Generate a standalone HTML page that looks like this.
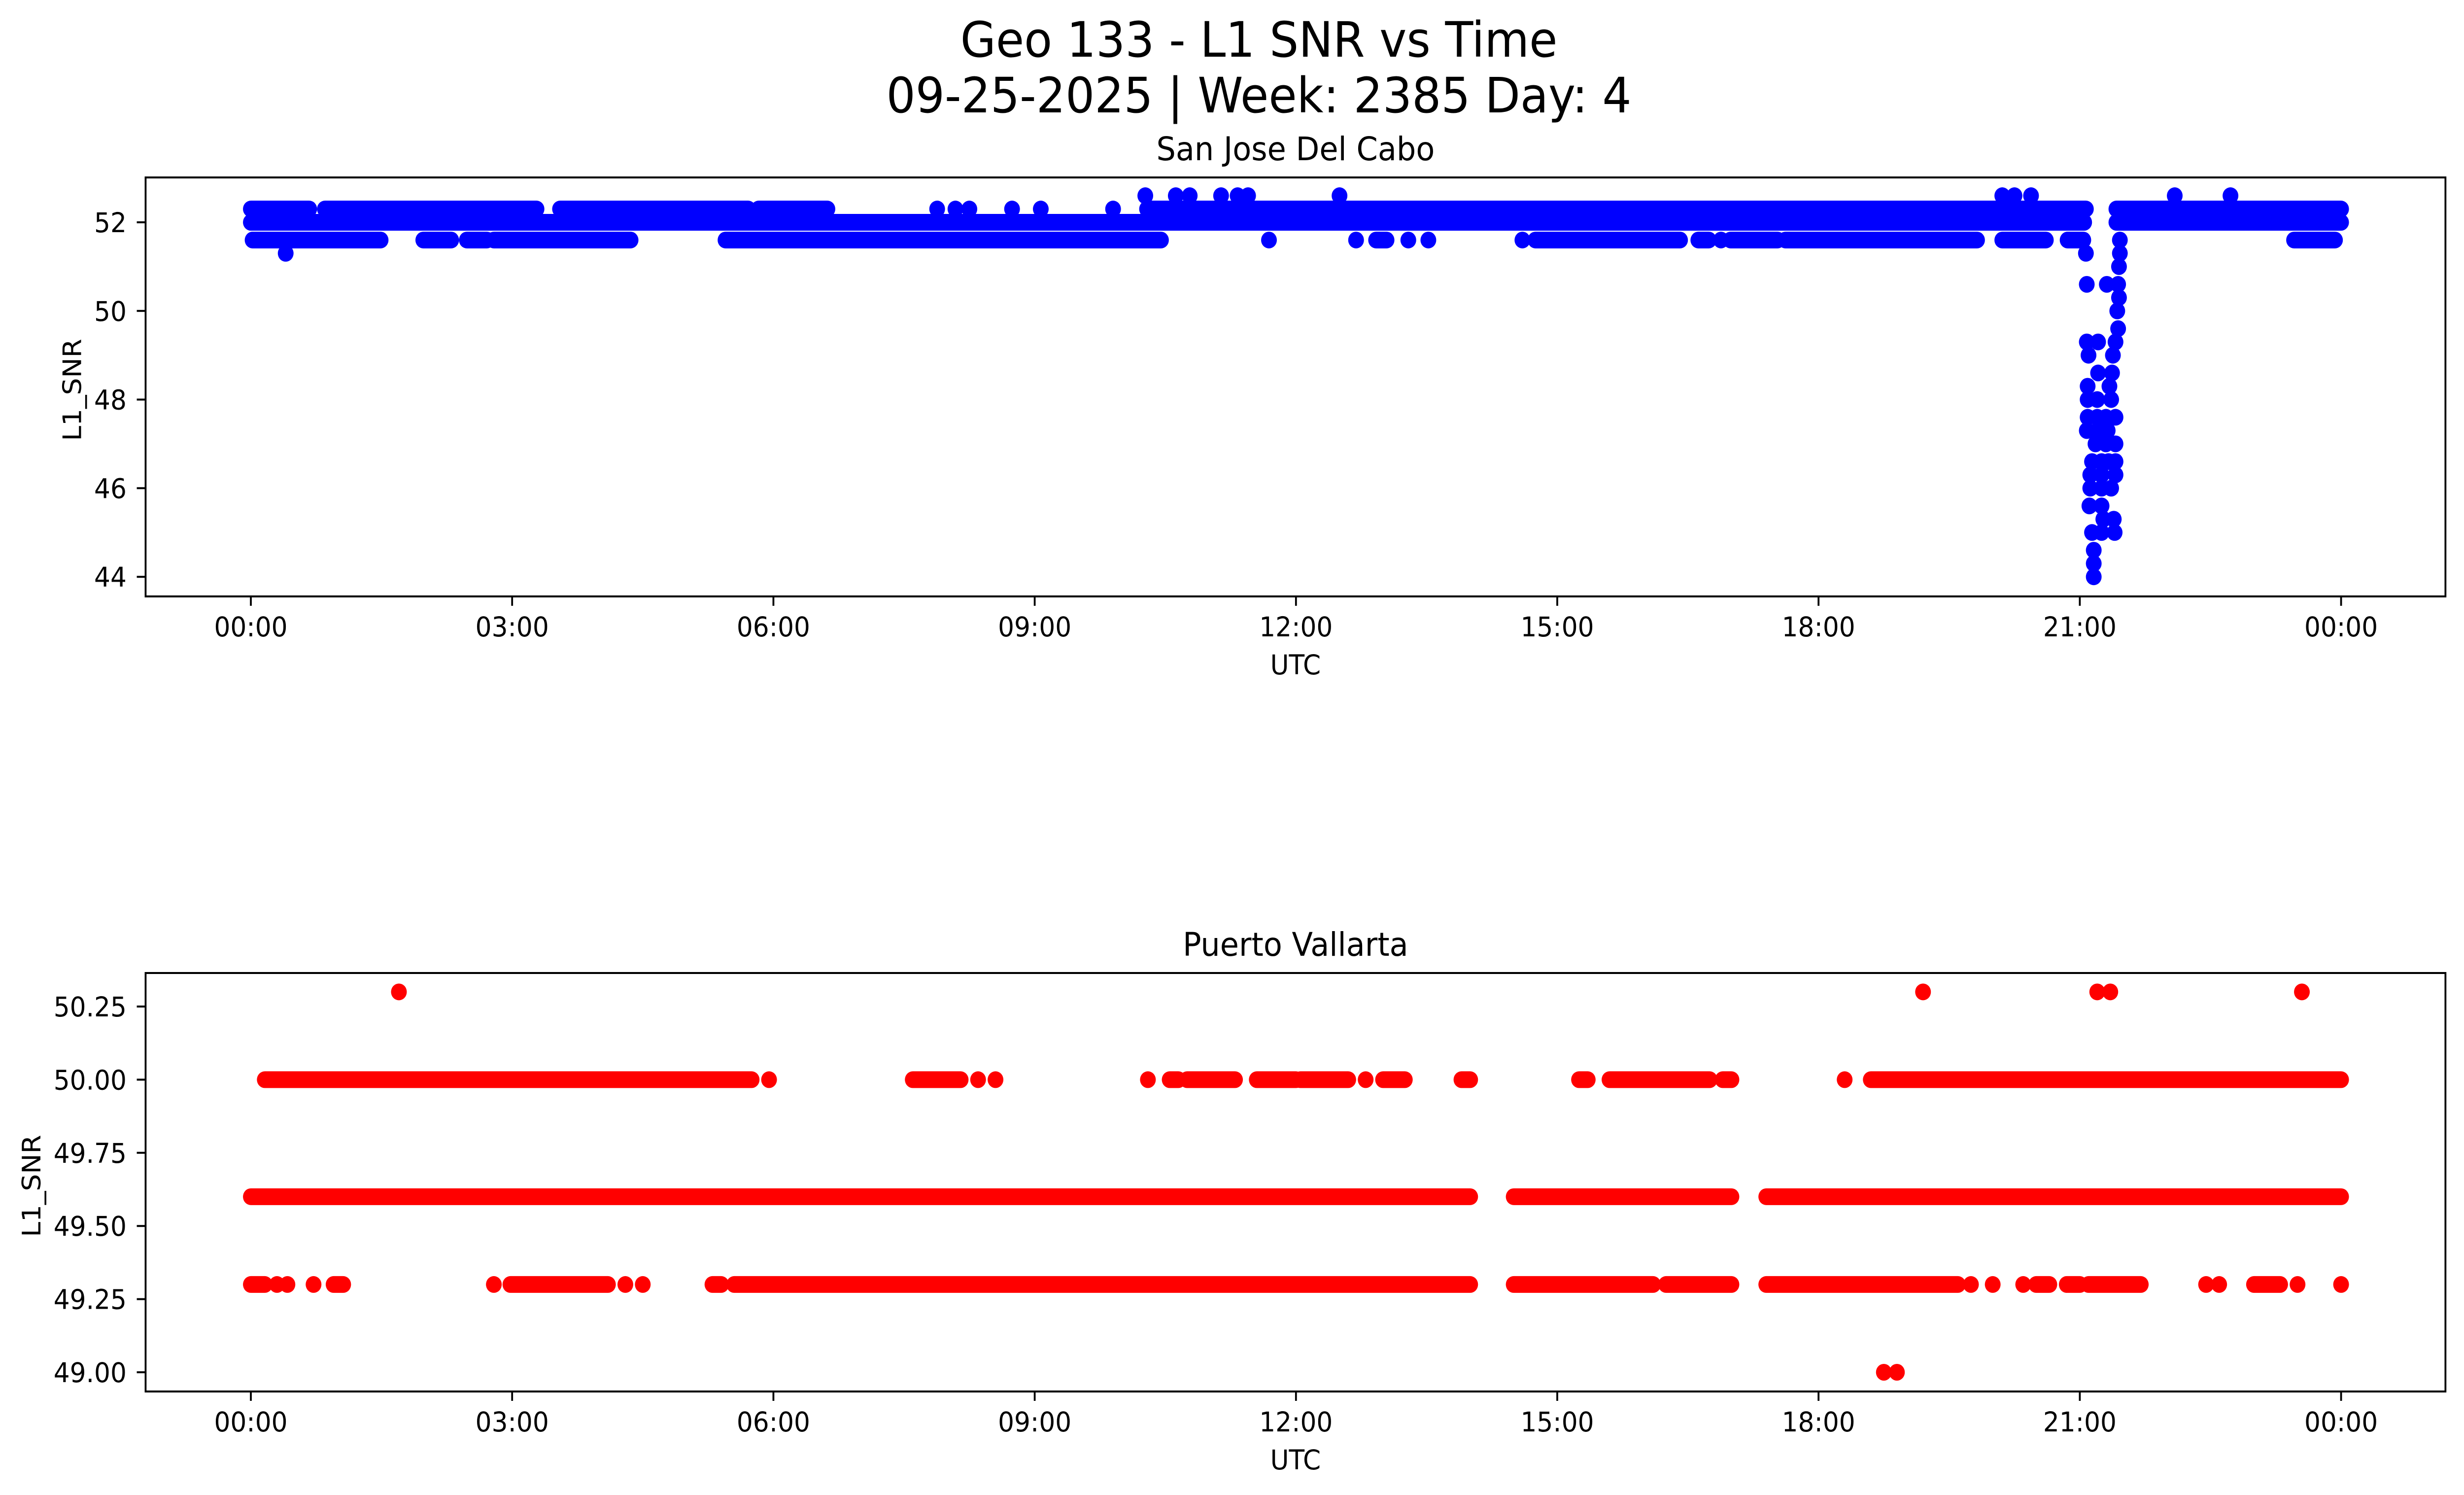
<!DOCTYPE html>
<html><head><meta charset="utf-8"><style>
html,body{margin:0;padding:0;background:#fff;overflow:hidden;width:100%;height:100%;}
svg{display:block;width:100vw;height:100vh;font-family:"DejaVu Sans","Liberation Sans",sans-serif;}
</style></head><body>
<svg id="fig" viewBox="0 0 5314 3033" preserveAspectRatio="none" xmlns="http://www.w3.org/2000/svg">
<rect width="5314" height="3033" fill="#fff"/>
<text x="2715" y="115" font-size="99" text-anchor="middle">Geo 133 - L1 SNR vs Time</text>
<text x="2715" y="228" font-size="99" text-anchor="middle">09-25-2025 | Week: 2385 Day: 4</text>
<text x="2794" y="325" font-size="66" text-anchor="middle">San Jose Del Cabo</text>
<text x="2794" y="1939" font-size="66" text-anchor="middle">Puerto Vallarta</text>
<g id="top"></g>
<g id="bot"></g>
</svg>
<script>
// ---- data ----
const xTickLabels = ["00:00","03:00","06:00","09:00","12:00","15:00","18:00","21:00","00:00"];
const xTickHours = [0,3,6,9,12,15,18,21,24];
const topYTicks = [44,46,48,50,52];
const botYTicks = [49.00,49.25,49.50,49.75,50.00,50.25];

const blue520Runs = [[0,21.05],[21.42,24]];
const blue523Runs = [[0,0.67],[0.85,3.28],[3.55,5.71],[5.83,6.62],[7.88,7.88],[8.09,8.09],[8.25,8.25],[8.74,8.74],[9.07,9.07],[9.9,9.9],[10.29,21.07],[21.42,24]];
const blue516Runs = [[0.02,1.49],[1.98,2.3],[2.48,2.71],[2.79,4.36],[5.45,10.45],[11.69,11.69],[12.69,12.69],[12.92,13.04],[13.29,13.29],[13.52,13.52],[14.6,14.6],[14.75,16.41],[16.62,16.74],[16.88,16.88],[16.99,17.53],[17.62,19.82],[20.11,20.61],[20.86,21.04],[23.46,23.93]];
const blue526Times = [10.27,10.62,10.78,11.14,11.33,11.45,12.5,20.11,20.25,20.44,22.09,22.73];
const blue513Times = [0.40];
const dipTimes = [21.07,21.08,21.31,21.44,21.45,21.46,21.46,21.45,21.43,21.44,21.08,21.21,21.41,21.10,21.38,21.21,21.37,21.09,21.34,21.09,21.36,21.2,21.09,21.41,21.2,21.3,21.08,21.32,21.2,21.18,21.41,21.3,21.14,21.41,21.25,21.33,21.12,21.41,21.25,21.12,21.36,21.25,21.11,21.25,21.27,21.39,21.14,21.25,21.40,21.16,21.16,21.16];
const dipValues = [51.3,50.6,50.6,50.6,51.0,51.6,51.3,50.3,50.0,49.6,49.3,49.3,49.3,49.0,49.0,48.6,48.6,48.3,48.3,48.0,48.0,48.0,47.6,47.6,47.6,47.6,47.3,47.3,47.3,47.0,47.0,47.0,46.6,46.6,46.6,46.6,46.3,46.3,46.3,46.0,46.0,46.0,45.6,45.6,45.3,45.3,45.0,45.0,45.0,44.6,44.3,44.0];

const red496Runs = [[0,14.0],[14.5,17.0],[17.4,24]];
const red500Runs = [[0.16,5.75],[5.95,5.95],[7.6,8.15],[8.35,8.35],[8.55,8.55],[10.3,10.3],[10.55,10.65],[10.75,11.3],[11.55,12.0],[12.05,12.6],[12.8,12.8],[13.0,13.25],[13.9,14.0],[15.25,15.35],[15.6,16.75],[16.9,17.0],[18.3,18.3],[18.6,24]];
const red493Runs = [[0,0.16],[0.3,0.3],[0.42,0.42],[0.72,0.72],[0.95,1.06],[2.79,2.79],[2.98,4.1],[4.3,4.3],[4.5,4.5],[5.3,5.4],[5.55,14.0],[14.5,16.1],[16.25,17.0],[17.4,19.6],[19.75,19.75],[20.0,20.0],[20.35,20.35],[20.5,20.65],[20.85,21.0],[21.1,21.7],[22.45,22.45],[22.6,22.6],[23.0,23.3],[23.5,23.5],[24,24]];
const red503Times = [1.7,19.2,21.2,21.35,23.55];
const red490Times = [18.75,18.9];

// ---- axes ----
const NS = "http://www.w3.org/2000/svg";
const AX_L = 314, AX_R = 5274;
function xs(t){ return 541 + t*187.83; }
function ysTop(v){ return 451 - (v-52)*89.9; }
function ysBot(v){ return 2042 - (v-50.25)*593.6; }
function mk(tag, attrs, parent){ const e=document.createElementNS(NS,tag); for(const k in attrs) e.setAttribute(k,attrs[k]); parent.appendChild(e); return e; }

function drawRuns(g, runs, v, ys, color, name){
  runs.forEach(r=>{
    const l = mk('line',{x1:xs(r[0]),x2:xs(r[1]),y1:ys(v),y2:ys(v),stroke:color,'stroke-width':34,'stroke-linecap':'round'},g);
    
    
  });
}
function drawPts(g, times, vals, ys, color, name){
  times.forEach((t,i)=>{
    const v = Array.isArray(vals) ? vals[i] : vals;
    const c = mk('circle',{cx:xs(t),cy:ys(v),r:17,fill:color},g);
    
    
  });
}

function drawAxes(g, top, bottom, yTicks, ys, fmt, ylabelX, ylabelY){
  const ax = mk('rect',{x:AX_L,y:top,width:AX_R-AX_L,height:bottom-top,fill:'none',stroke:'#000','stroke-width':4},g);
  
  
  xTickHours.forEach((h,i)=>{
    mk('line',{x1:xs(h),x2:xs(h),y1:bottom,y2:bottom+19,stroke:'#000','stroke-width':4},g);
    const t = mk('text',{x:xs(h),y:bottom+81,'font-size':55,'text-anchor':'middle'},g);
    t.textContent = xTickLabels[i];
    
    
  });
  yTicks.forEach(v=>{
    mk('line',{x1:AX_L-19,x2:AX_L,y1:ys(v),y2:ys(v),stroke:'#000','stroke-width':4},g);
    const t = mk('text',{x:273,y:ys(v)+20,'font-size':55,'text-anchor':'end'},g);
    t.textContent = fmt(v);
    
    
  });
  const xl = mk('text',{x:2794,y:bottom+158,'font-size':55,'text-anchor':'middle'},g);
  xl.textContent = 'UTC';
  
  
  const yl = mk('text',{x:0,y:0,'font-size':55,'text-anchor':'middle',transform:`translate(${ylabelX},${ylabelY}) rotate(-90)`},g);
  yl.textContent = 'L1_SNR';
  
  
}

const gt = document.getElementById('top');
const gb = document.getElementById('bot');
const BLUE='#0000ff', RED='#ff0000';

drawRuns(gt, blue520Runs, 52.0, ysTop, BLUE, 'blue-point-52.0');
drawRuns(gt, blue523Runs, 52.3, ysTop, BLUE, 'blue-point-52.3');
drawRuns(gt, blue516Runs, 51.6, ysTop, BLUE, 'blue-point-51.6');
drawPts(gt, blue526Times, 52.6, ysTop, BLUE, 'blue-point-52.6');
drawPts(gt, blue513Times, 51.3, ysTop, BLUE, 'blue-point-51.3');
drawPts(gt, dipTimes, dipValues, ysTop, BLUE, 'blue-dip-point');
drawAxes(gt, 360, 1210, topYTicks, ysTop, v=>String(v), 175, 791);

drawRuns(gb, red496Runs, 49.6, ysBot, RED, 'red-point-49.6');
drawRuns(gb, red500Runs, 50.0, ysBot, RED, 'red-point-50.0');
drawRuns(gb, red493Runs, 49.3, ysBot, RED, 'red-point-49.3');
drawPts(gb, red503Times, 50.3, ysBot, RED, 'red-point-50.3');
drawPts(gb, red490Times, 49.0, ysBot, RED, 'red-point-49.0');
drawAxes(gb, 1974, 2823, botYTicks, ysBot, v=>v.toFixed(2), 87, 2406);
</script>
</body></html>
